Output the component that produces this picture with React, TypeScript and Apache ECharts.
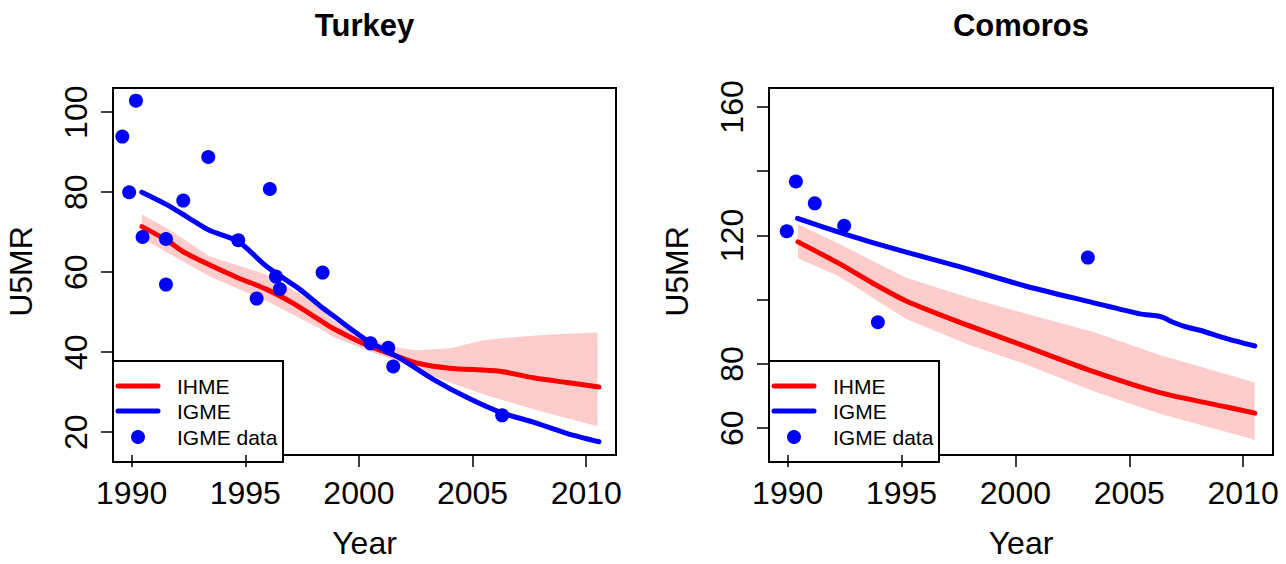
import React, { useEffect, useRef } from 'react';
import * as echarts from 'echarts';

const FONT = '"Liberation Sans", Arial, Helvetica, sans-serif';

// ---- axes ----
const yearTicks = [1990, 1995, 2000, 2005, 2010];
const turkeyYTicks = [20, 40, 60, 80, 100];
const turkeyYLabels = [20, 40, 60, 80, 100];
const comorosYTicks = [60, 80, 100, 120, 140, 160];
const comorosYLabels = [60, 80, 120, 160];

// ---- Turkey ----
const turkeyDataYears = [1989.59, 1990.19, 1989.89, 1990.48, 1991.51, 1991.51, 1992.27, 1993.37, 1994.69, 1996.08, 1995.5, 1996.35, 1996.52, 1998.4, 2000.51, 2001.29, 2001.51, 2006.3];
const turkeyDataValues = [93.9, 102.9, 80.0, 68.8, 68.3, 56.9, 77.9, 88.8, 68.0, 80.8, 53.4, 58.9, 55.8, 59.9, 42.2, 41.1, 36.4, 24.2];

const turkeyIgmeYears = [1990.45, 1991.54, 1992.5, 1993.44, 1994.69, 1995.94, 1997.4, 1998.28, 1998.87, 2000.34, 2001.8, 2003.27, 2004.74, 2006.2, 2007.67, 2009.14, 2010.56];
const turkeyIgmeValues = [80.0, 76.9, 73.6, 70.4, 67.7, 61.4, 55.7, 51.6, 49.1, 43.0, 38.5, 33.2, 28.7, 25.0, 22.5, 19.7, 17.6];

const turkeyIhmeYears = [1990.45, 1991.54, 1992.27, 1993.44, 1994.72, 1995.94, 1997.11, 1998.28, 1998.87, 2000.34, 2001.51, 2002.53, 2004.0, 2006.2, 2007.67, 2009.14, 2010.56];
const turkeyIhmeValues = [71.4, 68.0, 65.1, 61.8, 58.5, 55.7, 52.2, 48.0, 45.9, 41.8, 39.3, 37.3, 36.0, 35.2, 33.6, 32.4, 31.3];

const turkeyBandYears = [1990.45, 1991.5, 1993.44, 1995.94, 1998.28, 1998.87, 2000.34, 2001.51, 2002.53, 2004.0, 2005.47, 2006.94, 2008.4, 2010.5];
const turkeyBandUpper = [74.4, 71.2, 63.9, 59.4, 51.6, 47.9, 43.8, 41.3, 40.5, 41.0, 43.0, 43.8, 44.4, 44.9];
const turkeyBandLower = [68.5, 65.1, 58.9, 52.8, 45.9, 43.8, 40.5, 38.1, 35.6, 32.4, 29.5, 27.0, 24.6, 21.5];

// ---- Comoros ----
const comorosDataYears = [1989.96, 1990.36, 1991.19, 1992.48, 1993.96, 2003.18];
const comorosDataValues = [121.3, 136.8, 130.0, 123.0, 93.0, 113.1];

const comorosIgmeYears = [1990.43, 1992.48, 1993.73, 1995.2, 1997.54, 2000.47, 2003.4, 2005.46, 2006.19, 2006.48, 2006.92, 2007.51, 2008.1, 2009.27, 2010.51];
const comorosIgmeValues = [125.3, 120.5, 117.8, 114.8, 110.3, 104.2, 99.1, 95.6, 95.0, 94.5, 93.0, 91.5, 90.5, 87.9, 85.6];

const comorosIhmeYears = [1990.45, 1992.25, 1993.72, 1995.2, 1997.54, 2000.47, 2003.4, 2006.34, 2009.27, 2010.51];
const comorosIhmeValues = [118.0, 111.3, 105.2, 99.6, 93.0, 85.4, 77.7, 71.1, 66.6, 64.7];

const comorosBandYears = [1990.45, 1992.25, 1995.2, 1997.98, 2000.47, 2003.4, 2006.34, 2010.51];
const comorosBandUpper = [123.5, 117.4, 106.8, 100.6, 95.6, 90.0, 82.8, 74.2];
const comorosBandLower = [112.9, 107.3, 94.0, 85.9, 79.8, 71.6, 64.5, 56.4];

const legendLabels = ['IHME', 'IGME', 'IGME data'];
const titles = ['Turkey', 'Comoros'];

const RED = '#FF0000';
const BLUE = '#0000FF';

const GRIDS = [
  { left: 113, top: 88, width: 503, height: 374 },
  { left: 769, top: 88, width: 504, height: 374 },
];

function pairs(xs: number[], ys: number[]) {
  return xs.map((x, i) => [x, ys[i]]);
}

function bandSeries(idx: number, years: number[], lower: number[], upper: number[]) {
  return {
    type: 'custom',
    xAxisIndex: idx,
    yAxisIndex: idx,
    silent: true,
    z: 1,
    data: years.map((y, i) => [y, lower[i], upper[i]]),
    encode: { x: 0, y: [1, 2] },
    renderItem: (params: any, api: any) => {
      if (params.dataIndex !== 0) return null;
      const pts: number[][] = [];
      for (let i = 0; i < years.length; i++) pts.push(api.coord([years[i], upper[i]]));
      for (let i = years.length - 1; i >= 0; i--) pts.push(api.coord([years[i], lower[i]]));
      return { type: 'polygon', shape: { points: pts }, style: { fill: 'rgba(255,0,0,0.2)', stroke: null } };
    },
  };
}

function lineSeries(idx: number, xs: number[], ys: number[], color: string, z: number) {
  return {
    type: 'line',
    xAxisIndex: idx,
    yAxisIndex: idx,
    data: pairs(xs, ys),
    showSymbol: false,
    symbol: 'none',
    smooth: 0.25,
    silent: true,
    z,
    lineStyle: { color, width: 5, cap: 'round', join: 'round' },
  };
}

function scatterSeries(idx: number, xs: number[], ys: number[]) {
  return {
    type: 'scatter',
    xAxisIndex: idx,
    yAxisIndex: idx,
    data: pairs(xs, ys),
    symbol: 'circle',
    symbolSize: 14,
    silent: true,
    z: 5,
    itemStyle: { color: BLUE, opacity: 1 },
  };
}

function xAxis(idx: number) {
  return {
    type: 'value',
    gridIndex: idx,
    min: 1989.18,
    max: 2011.31,
    name: 'Year',
    nameLocation: 'middle',
    nameGap: 72,
    nameTextStyle: { fontSize: 32, fontFamily: FONT, color: '#000' },
    axisLine: { show: false },
    splitLine: { show: false },
    axisTick: { show: true, customValues: yearTicks, length: 12, lineStyle: { color: '#000', width: 1.5 } },
    axisLabel: {
      show: true,
      customValues: yearTicks,
      margin: 22,
      fontSize: 32,
      fontFamily: FONT,
      color: '#000',
      formatter: (v: number) => String(Math.round(v)),
    },
  };
}

function yAxis(idx: number, min: number, max: number, ticks: number[], labels: number[]) {
  return {
    type: 'value',
    gridIndex: idx,
    min,
    max,
    name: 'U5MR',
    nameLocation: 'middle',
    nameGap: 76,
    nameTextStyle: { fontSize: 32, fontFamily: FONT, color: '#000' },
    axisLine: { show: false },
    splitLine: { show: false },
    axisTick: { show: true, customValues: ticks, length: 12, lineStyle: { color: '#000', width: 1.5 } },
    axisLabel: {
      show: true,
      customValues: labels,
      rotate: 90,
      margin: 21,
      fontSize: 32,
      fontFamily: FONT,
      color: '#000',
      formatter: (v: number) => String(Math.round(v)),
    },
  };
}

function legendGraphic(gx: number) {
  const txt = (s: string, y: number) => ({
    type: 'text',
    x: gx + 64,
    y,
    style: {
      text: s,
      fill: '#000',
      font: `21px ${FONT}`,
      align: 'left',
      verticalAlign: 'middle',
      textAlign: 'left',
      textVerticalAlign: 'middle',
    },
  });
  return {
    type: 'group',
    z: 100,
    children: [
      { type: 'rect', shape: { x: gx, y: 361, width: 170, height: 101 }, style: { fill: '#fff', stroke: '#000', lineWidth: 2 } },
      { type: 'line', shape: { x1: gx + 5, y1: 386, x2: gx + 45, y2: 386 }, style: { stroke: RED, lineWidth: 5, lineCap: 'round' } },
      { type: 'line', shape: { x1: gx + 5, y1: 411, x2: gx + 45, y2: 411 }, style: { stroke: BLUE, lineWidth: 5, lineCap: 'round' } },
      { type: 'circle', shape: { cx: gx + 25, cy: 437, r: 7 }, style: { fill: BLUE } },
      txt(legendLabels[0], 386),
      txt(legendLabels[1], 411),
      txt(legendLabels[2], 437),
    ],
  };
}

function titleGraphic(text: string, cx: number) {
  return {
    type: 'text',
    x: cx,
    y: 10,
    z: 100,
    style: {
      text,
      fill: '#000',
      font: `bold 31px ${FONT}`,
      align: 'center',
      verticalAlign: 'top',
      textAlign: 'center',
      textVerticalAlign: 'top',
    },
  };
}

export default function App() {
  const ref = useRef<HTMLDivElement>(null);
  useEffect(() => {
    document.body.style.margin = '0';
    if (!ref.current) return;
    const chart = echarts.init(ref.current, undefined, { renderer: 'svg' });
    chart.setOption({
      animation: false,
      backgroundColor: '#fff',
      grid: GRIDS.map((g) => ({ ...g, show: true, borderColor: '#000', borderWidth: 2, backgroundColor: 'transparent', containLabel: false })),
      xAxis: [xAxis(0), xAxis(1)],
      yAxis: [
        yAxis(0, 14.28, 106.06, turkeyYTicks, turkeyYLabels),
        yAxis(1, 51.66, 165.9, comorosYTicks, comorosYLabels),
      ],
      series: [
        bandSeries(0, turkeyBandYears, turkeyBandLower, turkeyBandUpper),
        lineSeries(0, turkeyIhmeYears, turkeyIhmeValues, RED, 2),
        lineSeries(0, turkeyIgmeYears, turkeyIgmeValues, BLUE, 3),
        scatterSeries(0, turkeyDataYears, turkeyDataValues),
        bandSeries(1, comorosBandYears, comorosBandLower, comorosBandUpper),
        lineSeries(1, comorosIhmeYears, comorosIhmeValues, RED, 2),
        lineSeries(1, comorosIgmeYears, comorosIgmeValues, BLUE, 3),
        scatterSeries(1, comorosDataYears, comorosDataValues),
      ],
      graphic: [
        titleGraphic(titles[0], GRIDS[0].left + GRIDS[0].width / 2),
        titleGraphic(titles[1], GRIDS[1].left + GRIDS[1].width / 2),
        legendGraphic(GRIDS[0].left),
        legendGraphic(GRIDS[1].left),
      ],
    });
    return () => chart.dispose();
  }, []);
  return <div ref={ref} style={{ width: 1286, height: 564 }} />;
}
